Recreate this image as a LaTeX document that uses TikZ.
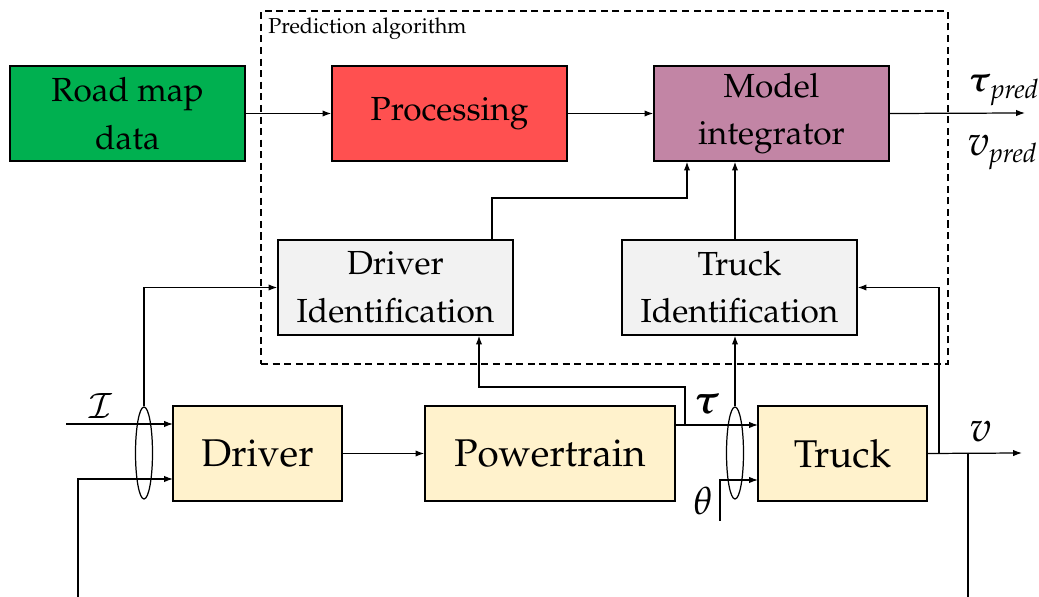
\documentclass[tikz,border=0pt]{standalone}
\usepackage[T1]{fontenc}
\usepackage{mathpazo}
\usepackage{amsmath}
\usetikzlibrary{arrows.meta,shapes.geometric}
\definecolor{cgreen}{RGB}{0,176,80}
\definecolor{cred}{RGB}{255,80,80}
\definecolor{cpurple}{RGB}{194,133,165}
\definecolor{cgray}{RGB}{242,242,242}
\definecolor{cyellow}{RGB}{255,242,204}
\tikzset{
  blk/.style={draw, line width=0.8pt, align=center, inner sep=0pt,
    minimum width=4.7cm, minimum height=1.9cm,
    font=\fontsize{19}{27}\selectfont},
  lowblk/.style={draw, line width=0.8pt, align=center, inner sep=0pt,
    fill=cyellow, minimum height=1.9cm, font=\fontsize{22}{27}\selectfont},
  arr/.style={-{Latex[length=5pt,width=3.6pt]}, line width=0.7pt},
  ln/.style={line width=0.7pt},
  bundle/.style={draw, ellipse, line width=0.7pt, minimum width=0.34cm,
    minimum height=1.84cm, inner sep=0pt},
  lbl/.style={inner sep=0pt}
}
\begin{document}
\begin{tikzpicture}[x=0.02cm,y=-0.02cm]
\path[use as bounding box] (0,0) rectangle (1039,597);
% prediction frame
\node[draw, dashed, dash pattern=on 4pt off 2.6pt, line width=0.7pt,
  minimum width=13.74cm, minimum height=7.06cm, inner sep=0pt] (pred) at (604.5,187.5) {};
\node[lbl, anchor=west, font=\fontsize{12.3}{14}\selectfont] (predlbl) at (268,29) {Prediction algorithm};
% top blocks
\node[blk, fill=cgreen] (road) at (127.5,113.5) {Road map\\data};
\node[blk, fill=cred] (proc) at (449.5,113.5) {Processing};
\node[blk, fill=cpurple] (model) at (771.5,113.5) {Model\\integrator};
\node[blk, fill=cgray] (drvid) at (395.5,287.5) {Driver\\Identification};
\node[blk, fill=cgray] (trkid) at (739.5,287.5) {Truck\\Identification};
% bottom blocks
\node[lowblk, minimum width=3.38cm] (driver) at (257.5,453.5) {Driver};
\node[lowblk, minimum width=5.0cm] (ptrain) at (550,453.5) {Powertrain};
\node[lowblk, minimum width=3.38cm] (truck) at (842.5,453.5) {Truck};
% bundles
\node[bundle] (e1) at (144,453) {};
\node[bundle] (e2) at (735,453) {};
% coordinates
\coordinate (out) at (1025,113);
\coordinate (p1) at (492,198);
\coordinate (p2) at (687,198);
\coordinate (p3) at (735,0);
\coordinate (iin) at (66,424);
\coordinate (fbin) at (78,597);
\coordinate (fbc) at (78,479);
\coordinate (dr1) at (173,424);
\coordinate (dr2) at (173,479);
\coordinate (tq) at (685,425);
\coordinate (tq2) at (685,387);
\coordinate (tq3) at (479,387);
\coordinate (tr1) at (758,425);
\coordinate (th0) at (720,521);
\coordinate (th1) at (720,480);
\coordinate (tr2) at (758,480);
\coordinate (vout) at (1022,453);
\coordinate (vb1) at (939,453);
\coordinate (vb1t) at (939,287.5);
\coordinate (vb2) at (968,453);
\coordinate (vb2e) at (968,597);
% top connectors
\draw[arr] (road) -- (proc);
\draw[arr] (proc) -- (model);
\draw[arr] (model.east) -- (out);
\draw[arr] (drvid.north -| p1) -- (p1) -- (p2) -- (model.south -| p2);
\draw[arr] (trkid.north -| p3) -- (model.south -| p3);
% driver inputs
\draw[arr] (iin) -- (dr1);
\draw[arr] (fbin) -- (fbc) -- (dr2);
\draw[arr] (e1.north) |- (drvid.west);
% driver -> powertrain -> truck
\draw[arr] (driver) -- (ptrain);
\draw[arr] (ptrain.east |- tq) -- (tr1);
\draw[arr] (tq) -- (tq2) -- (tq3) -- (drvid.south -| tq3);
\draw[arr] (th0) -- (th1) -- (tr2);
\draw[arr] (e2.north) -- (trkid.south -| e2.north);
% truck output
\draw[arr] (truck.east) -- (vout);
\draw[arr] (vb1) -- (vb1t) -- (trkid.east);
\draw[ln] (vb2) -- (vb2e);
% labels
\node[lbl, font=\fontsize{20}{20}\selectfont] (lI) at (101,406) {$\mathcal{I}$};
\node[lbl, font=\fontsize{23}{23}\selectfont] (ltau) at (707,404) {$\boldsymbol{\tau}$};
\node[lbl, font=\fontsize{22}{22}\selectfont] (lth) at (703,501) {$\theta$};
\node[lbl, font=\fontsize{24}{24}\selectfont] (lv) at (981,431) {\textit{v}};
\node[lbl, anchor=west, font=\fontsize{20}{20}\selectfont] (ltp) at (968,90) {$\boldsymbol{\tau}_{\mathit{pred}}$};
\node[lbl, anchor=west, font=\fontsize{20}{20}\selectfont] (lvp) at (968,152) {$\text{\fontsize{24}{24}\selectfont\textit{v}}_{\mathit{pred}}$};
\end{tikzpicture}
\end{document}
